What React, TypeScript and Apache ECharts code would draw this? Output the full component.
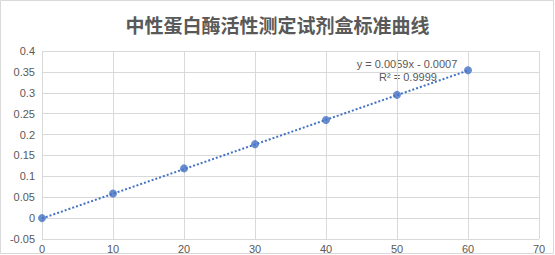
import React, { useEffect, useRef } from "react";
import * as echarts from "echarts";

const titleText = "中性蛋白酶活性测定试剂盒标准曲线";
const xValues = [0, 10, 20, 30, 40, 50, 60];
const yValues = [0, 0.059, 0.119, 0.177, 0.235, 0.295, 0.354];
const trendX = [0, 60];
const trendY = [-0.0007, 0.3533];
const equationText = "y = 0.0059x - 0.0007";
const r2Text = "R² = 0.9999";

export default function App() {
  const ref = useRef<HTMLDivElement>(null);
  useEffect(() => {
    document.body.style.margin = "0";
    const chart = echarts.init(ref.current!, null, { renderer: "svg" });
    const gray = "#595959";
    const gridColor = "#D9D9D9";
    chart.setOption({
      animation: false,
      backgroundColor: "#ffffff",
      title: {
        text: titleText,
        left: "center",
        top: 10,
        textStyle: {
          fontFamily: "Noto Sans CJK SC",
          fontSize: 19,
          fontWeight: "bold",
          color: gray,
        },
      },
      grid: { left: 42, right: 16, top: 51, bottom: 16, containLabel: false },
      xAxis: {
        type: "value",
        min: 0,
        max: 70,
        interval: 10,
        axisLine: { onZero: true, lineStyle: { color: gridColor } },
        axisTick: { show: false },
        axisLabel: { color: gray, fontFamily: "Liberation Sans", fontSize: 11, margin: 4 },
        splitLine: { show: true, lineStyle: { color: gridColor } },
      },
      yAxis: {
        type: "value",
        min: -0.05,
        max: 0.4,
        interval: 0.05,
        axisLine: { show: false },
        axisTick: { show: false },
        axisLabel: {
          color: gray,
          fontFamily: "Liberation Sans",
          fontSize: 11,
          margin: 7,
          formatter: (v: number) => String(Math.round(v * 100) / 100),
        },
        splitLine: { show: true, lineStyle: { color: gridColor } },
      },
      graphic: [
        {
          type: "rect",
          shape: { x: 0.5, y: 0.5, width: 553, height: 253 },
          style: { fill: "none", stroke: gridColor, lineWidth: 1 },
          silent: true,
        },
        {
          type: "text",
          x: 407,
          y: 64,
          style: {
            text: equationText,
            fill: gray,
            font: "11px 'Liberation Sans'",
            textAlign: "center",
            textVerticalAlign: "middle",
          },
        },
        {
          type: "text",
          x: 408,
          y: 77,
          style: {
            text: r2Text,
            fill: gray,
            font: "11px 'Liberation Sans'",
            textAlign: "center",
            textVerticalAlign: "middle",
          },
        },
      ],
      series: [
        {
          type: "line",
          data: trendX.map((x, i) => [x, trendY[i]]),
          showSymbol: false,
          lineStyle: { color: "#4472C4", width: 2, type: [2, 2] },
          z: 2,
        },
        {
          type: "scatter",
          data: xValues.map((x, i) => [x, yValues[i]]),
          symbolSize: 8,
          itemStyle: { color: "#4472C4" },
          z: 3,
        },
      ],
    });
    return () => chart.dispose();
  }, []);
  return <div ref={ref} style={{ width: 555, height: 255 }} />;
}
